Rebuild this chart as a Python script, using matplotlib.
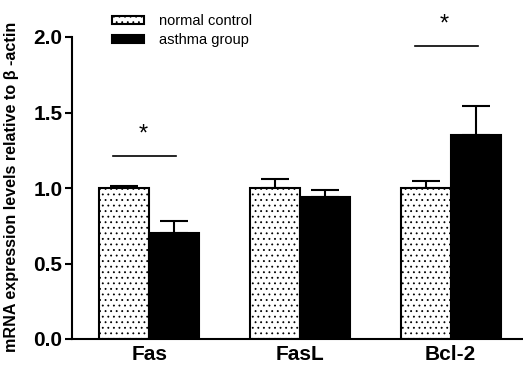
import numpy as np
import matplotlib
matplotlib.use("Agg")
import matplotlib.pyplot as plt

plt.rcParams['font.family'] = ['Liberation Sans', 'DejaVu Sans']
plt.rcParams['hatch.linewidth'] = 0.6

genes = ["Fas", "FasL", "Bcl-2"]
control_mean = [1.00, 1.00, 1.00]
control_err = [0.01, 0.057, 0.048]
asthma_mean = [0.70, 0.942, 1.351]
asthma_err = [0.08, 0.045, 0.192]
sig_y = [1.21, None, 1.94]

fig = plt.figure(figsize=(5.23, 3.69), dpi=100)
ax = fig.add_axes([72 / 523, 1 - 339 / 369, (523 - 72) / 523, (339 - 37) / 369])

x = np.arange(len(genes))
w = 0.331
ax.bar(x - w / 2, control_mean, w, color="white", edgecolor="black",
       linewidth=1.5, hatch="...", label="normal control", zorder=2)
ax.bar(x + w / 2, asthma_mean, w, color="black", edgecolor="black",
       linewidth=1.5, label="asthma group", zorder=2)
ax.errorbar(x - w / 2, control_mean, yerr=[np.zeros(3), control_err],
            fmt="none", ecolor="black", elinewidth=1.5, capsize=10,
            capthick=1.5, zorder=1)
ax.errorbar(x + w / 2, asthma_mean, yerr=[np.zeros(3), asthma_err],
            fmt="none", ecolor="black", elinewidth=1.5, capsize=10,
            capthick=1.5, zorder=1)

for i, y in enumerate(sig_y):
    if y is None:
        continue
    ax.plot([i - 0.24, i + 0.18], [y, y], color="black", lw=1.2, clip_on=False)
    ax.text(i - 0.04, y + 0.07, "*", ha="center", va="bottom",
            fontsize=17, clip_on=False)

ax.set_xlim(-0.513, 2.48)
ax.set_ylim(0, 2.0)
ax.set_yticks([0.0, 0.5, 1.0, 1.5, 2.0])
ax.set_yticklabels(["0.0", "0.5", "1.0", "1.5", "2.0"])
ax.set_xticks(x)
ax.set_xticklabels(genes)
for lab in ax.get_yticklabels():
    lab.set_fontweight("bold")
    lab.set_fontsize(15)
for lab in ax.get_xticklabels():
    lab.set_fontweight("bold")
    lab.set_fontsize(15)

ax.spines["top"].set_visible(False)
ax.spines["right"].set_visible(False)
ax.spines["left"].set_linewidth(1.5)
ax.spines["bottom"].set_linewidth(1.5)
ax.tick_params(axis="y", length=5, width=1.5, pad=2)
ax.tick_params(axis="x", length=0, pad=4)

ax.set_ylabel("mRNA expression levels relative to β -actin",
              fontsize=11.6, fontweight="bold")
ax.yaxis.set_label_coords(-0.118, 0.505)

fig.legend(loc="upper left", bbox_to_anchor=(105 / 523, 1 - 7 / 369),
           frameon=False, fontsize=10.5, handlelength=2.2, handleheight=0.45,
           handletextpad=1.0, labelspacing=0.35, borderpad=0)

fig.savefig("out.png", dpi=100)
